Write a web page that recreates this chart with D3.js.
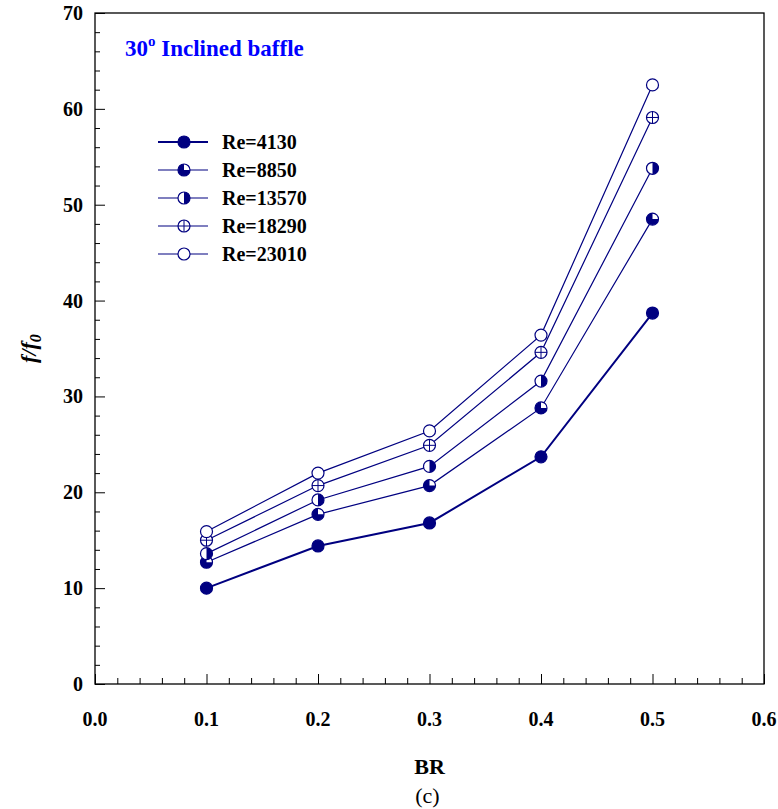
<!DOCTYPE html>
<html>
<head>
<meta charset="utf-8">
<script src="https://cdn.jsdelivr.net/npm/d3@7"></script>
<style>
  body { margin: 0; background: #fff; }
  svg text { font-family: "Liberation Serif", "Times New Roman", serif; }
</style>
</head>
<body>
<div id="chart"></div>
<script>
// data
const br = [0.1, 0.2, 0.3, 0.4, 0.5]
const reLabels = ["Re=4130", "Re=8850", "Re=13570", "Re=18290", "Re=23010"]
const re4130 = [10.0, 14.4, 16.8, 23.7, 38.7]
const re8850 = [12.7, 17.7, 20.7, 28.8, 48.5]
const re13570 = [13.6, 19.2, 22.7, 31.6, 53.8]
const re18290 = [15.0, 20.7, 24.9, 34.6, 59.1]
const re23010 = [15.9, 22.0, 26.4, 36.4, 62.5]
const xTicks = [0, 0.1, 0.2, 0.3, 0.4, 0.5, 0.6]
const yTicks = [0, 10, 20, 30, 40, 50, 60, 70]

const series = [re4130, re8850, re13570, re18290, re23010]
const markerKinds = ["full", "threeQuarter", "half", "cross", "open"]
const navy = "#000080"

const width = 778, height = 809
const margin = {left: 95, right: 14, top: 13, bottom: 125}

const svg = d3.select("#chart").append("svg")
    .attr("width", width)
    .attr("height", height)

const x = d3.scaleLinear().domain([0, 0.6]).range([margin.left, width - margin.right])
const y = d3.scaleLinear().domain([0, 70]).range([height - margin.bottom, margin.top])

// frame
svg.append("rect")
    .attr("x", x(0)).attr("y", y(70))
    .attr("width", x(0.6) - x(0)).attr("height", y(0) - y(70))
    .attr("fill", "none").attr("stroke", "#000").attr("stroke-width", 1.3)

// axes with inward ticks
const xAxis = svg.append("g").attr("transform", `translate(0,${y(0)})`)
    .call(d3.axisBottom(x).tickValues(d3.range(0, 0.601, 0.02)).tickSize(-6).tickFormat(""))
xAxis.select(".domain").remove()
xAxis.selectAll(".tick line").attr("stroke-width", 1)
    .filter(d => Math.abs(d * 10 - Math.round(d * 10)) < 1e-6).attr("y2", -10)

const yAxis = svg.append("g").attr("transform", `translate(${x(0)},0)`)
    .call(d3.axisLeft(y).tickValues(d3.range(0, 70.1, 2)).tickSize(-5).tickFormat(""))
yAxis.select(".domain").remove()
yAxis.selectAll(".tick line").attr("stroke-width", 1)
    .filter(d => d % 10 === 0).attr("x2", 10)

// tick labels
svg.append("g").selectAll("text")
    .data(xTicks).enter().append("text")
    .attr("x", d => x(d)).attr("y", y(0) + 42)
    .attr("text-anchor", "middle")
    .style("font-size", "20px").style("font-weight", "bold")
    .text(d => d.toFixed(1))

svg.append("g").selectAll("text")
    .data(yTicks).enter().append("text")
    .attr("x", x(0) - 12).attr("y", d => y(d) + 7)
    .attr("text-anchor", "end")
    .style("font-size", "20px").style("font-weight", "bold")
    .text(d => d)

// axis titles
svg.append("text")
    .attr("x", (x(0) + x(0.6)) / 2).attr("y", 774)
    .attr("text-anchor", "middle")
    .style("font-size", "22px").style("font-weight", "bold")
    .text("BR")

svg.append("text")
    .attr("x", (x(0) + x(0.6)) / 2 - 2).attr("y", 803)
    .attr("text-anchor", "middle")
    .style("font-size", "22px")
    .text("(c)")

const yl = svg.append("text")
    .attr("transform", `translate(36,${(y(0) + y(70)) / 2}) rotate(-90)`)
    .attr("text-anchor", "middle")
    .style("font-size", "22px").style("font-style", "italic").style("font-weight", "bold")
yl.append("tspan").text("f/f")
yl.append("tspan").attr("dy", 5).style("font-size", "16px").text("0")

// title
const title = svg.append("text")
    .attr("x", 125).attr("y", 56)
    .attr("fill", "#0000ff")
    .style("font-size", "23px").style("font-weight", "bold")
title.append("tspan").text("30")
title.append("tspan").attr("dy", -10).style("font-size", "15px").text("o")
title.append("tspan").attr("dy", 10).text(" Inclined baffle")

// marker drawing
const r = 6
function drawMarker(g, kind) {
    g.append("circle").attr("r", r)
        .attr("fill", kind === "full" ? navy : "#fff")
        .attr("stroke", navy).attr("stroke-width", 1.2)
    if (kind === "half") {
        g.append("path")
            .attr("d", `M0,${-r}A${r},${r} 0 0,1 0,${r}Z`)
            .attr("fill", navy)
    } else if (kind === "threeQuarter") {
        g.append("path")
            .attr("d", `M0,0L${r},0A${r},${r} 0 1,1 0,${-r}Z`)
            .attr("fill", navy)
    } else if (kind === "cross") {
        g.append("path")
            .attr("d", `M${-r},0H${r}M0,${-r}V${r}`)
            .attr("stroke", navy).attr("stroke-width", 1)
    }
}

// lines and markers
const line = d3.line().x((d, i) => x(br[i])).y(d => y(d))

series.forEach((vals, k) => {
    svg.append("path")
        .datum(vals)
        .attr("fill", "none")
        .attr("stroke", navy)
        .attr("stroke-width", k === 0 ? 2 : 1.2)
        .attr("d", line)
})

series.forEach((vals, k) => {
    svg.append("g").selectAll("g")
        .data(vals).enter().append("g")
        .attr("transform", (d, i) => `translate(${x(br[i])},${y(d)})`)
        .each(function () { drawMarker(d3.select(this), markerKinds[k]) })
})

// legend
const legend = svg.append("g")
reLabels.forEach((lab, k) => {
    const ly = 142 + k * 28
    legend.append("line")
        .attr("x1", 158).attr("x2", 208).attr("y1", ly).attr("y2", ly)
        .attr("stroke", navy).attr("stroke-width", k === 0 ? 2 : 1.2)
    drawMarker(legend.append("g").attr("transform", `translate(184,${ly})`), markerKinds[k])
    legend.append("text")
        .attr("x", 222).attr("y", ly + 7)
        .style("font-size", "20px").style("font-weight", "bold")
        .text(lab)
})
</script>
</body>
</html>
